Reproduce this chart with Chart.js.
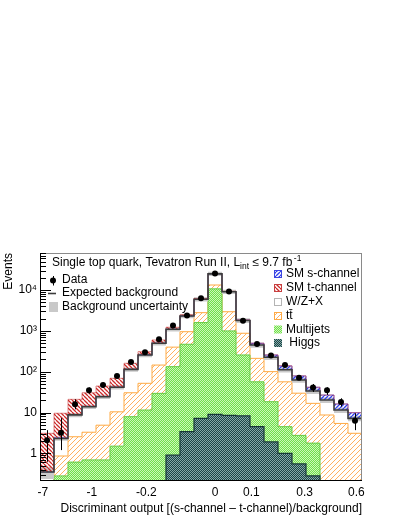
<!DOCTYPE html>
<html><head><meta charset="utf-8">
<script src="https://cdn.jsdelivr.net/npm/chart.js@4.4.1/dist/chart.umd.min.js"></script>
<style>html,body{margin:0;padding:0;background:#fff;}#wrap{width:399px;height:516px;}</style>
</head><body><div id="wrap"><canvas id="c" width="399" height="516" style="width:399px;height:516px"></canvas></div>
<script>
// ---------- data ----------
const nBins = 23;
const xTickPos    = [0.2, 3.7, 7.6, 12.5, 15.1, 18.9, 22.6];
const xTickLabels = ['-7', '-1', '-0.2', '0', '0.1', '0.3', '0.6'];
const yTickValues = [1, 10, 100, 1000, 10000];
const yTickLabels = ['1', '10', '10²', '10³', '10⁴'];

const higgs     = [0, 0, 0, 0, 0, 0, 0, 0, 0, 0.9, 3.4, 7.2, 9.0, 8.5, 8.3, 4.5, 1.9, 1.0, 0.55, 0.28, 0, 0, 0];
const multijets = [0, 0.28, 0.61, 0.69, 0.69, 1.5, 7.9, 11.5, 29.5, 132, 467, 1590, 10700, 990, 249, 52, 16.5, 3.5, 2.2, 1.5, 0, 0, 0];
const ttbar     = [0, 0.58, 1.94, 2.6, 4.2, 8.9, 22.6, 40.5, 116, 267, 485, 1200, 2600, 1950, 618, 156, 82, 52, 27, 15, 8.7, 5.4, 3.1];
const wzx       = [0.35, 1.44, 6.2, 10.6, 19.5, 31.1, 83.5, 205, 354, 695, 1365, 3160, 11700, 6190, 925, 238, 125, 55, 33, 16.8, 11.5, 6.1, 4.1];
const schan     = [0, 0.1, 0.2, 0.3, 0.4, 0.6, 1, 2, 3, 5, 10, 20, 50, 80, 45, 46, 32, 27, 16, 8, 6.6, 4.7, 2.7];
const tchan     = [2.75, 7.2, 12.1, 16.3, 19.8, 26.9, 46, 51, 97, 130, 150, 270, 350, 130, 15, 3, 1, 0.5, 0.3, 0.1, 0, 0, 0];
const bkgUnc    = [0.33, 0.12, 0.12, 0.12, 0.12, 0.12, 0.12, 0.12, 0.12, 0.12, 0.12, 0.12, 0.12, 0.12, 0.13, 0.14, 0.14, 0.14, 0.15, 0.15, 0.15, 0.15, 0.15];
const data      = [2.1, 3.2, 16, 35, 47, 78, 173, 300, 620, 1350, 2400, 6300, 25500, 9200, 1780, 478, 250, 145, 71, 41, 35, 18, 6.3];
const dataLow   = [0.62, 1.2, 12, 29, 40, 69, 160, 283, 595, 1313, 2351, 6221, 25340, 9104, 1738, 456, 234, 133, 63, 32, 27, 14, 3.7];
const dataHigh  = [3.7, 7.3, 21, 41, 54, 87, 186, 317, 645, 1387, 2449, 6379, 25660, 9296, 1822, 500, 266, 157, 79, 50, 41.5, 22.3, 9.6];

// ---------- helpers ----------
const FONT = '"Liberation Sans", Arial, Helvetica, sans-serif';
const FLOOR = 0.01;
function cumulative(...arrs) { return arrs[0].map((_, i) => arrs.reduce((s, a) => s + a[i], 0)); }
function steps(vals) {
  const pts = vals.map((v, i) => ({x: i, y: v > 0 ? v : FLOOR}));
  pts.push({x: vals.length, y: vals[vals.length - 1] > 0 ? vals[vals.length - 1] : FLOOR});
  return pts;
}
function hatch(color, s, dir, lw) {
  const c = document.createElement('canvas'); c.width = s; c.height = s;
  const g = c.getContext('2d');
  g.strokeStyle = color; g.lineWidth = lw; g.beginPath();
  for (let k = -1; k <= 1; k++) {
    if (dir === '/') { g.moveTo(k * s, s); g.lineTo(k * s + s, 0); }
    else { g.moveTo(k * s, 0); g.lineTo(k * s + s, s); }
  }
  g.stroke();
  return g.createPattern(c, 'repeat');
}
function checker(c1, c2) {
  const c = document.createElement('canvas'); c.width = 2; c.height = 2;
  const g = c.getContext('2d');
  g.fillStyle = c1; g.fillRect(0, 0, 2, 2);
  g.fillStyle = c2; g.fillRect(0, 0, 1, 1); g.fillRect(1, 1, 1, 1);
  return g.createPattern(c, 'repeat');
}
const patTT = hatch('#ffb060', 5, '/', 1);
const patT  = hatch('#cc2a2a', 4, '\\', 1.3);
const patS  = hatch('#2f3ff0', 4, '/', 1.3);
const patMJ = checker('#6ee04a', '#cdf6b9');
const patH  = checker('#1c4646', '#86a8a8');

const cumH  = higgs.slice();
const cumM  = cumulative(higgs, multijets);
const cumT  = cumulative(higgs, multijets, ttbar);
const cumW  = cumulative(higgs, multijets, ttbar, wzx);
const cumS  = cumulative(higgs, multijets, ttbar, wzx, schan);
const cumTc = cumulative(higgs, multijets, ttbar, wzx, schan, tchan);
const bandHi = cumW.map((v, i) => v * (1 + bkgUnc[i]));
const bandLo = cumW.map((v, i) => v * (1 - bkgUnc[i]));

const lineBase = {type: 'line', stepped: true, pointRadius: 0, tension: 0, spanGaps: true};

const datasets = [
  {type: 'line', label: 'Data', data: data.map((v, i) => ({x: i + 0.5, y: v})), showLine: false,
   pointRadius: 3, pointBackgroundColor: '#000', pointBorderColor: '#000', pointBorderWidth: 0, order: 0},
  {...lineBase, label: 'Expected background', data: steps(cumW), borderColor: '#3c3c3c', borderWidth: 1.6, fill: false, order: 1},
  {...lineBase, label: 'SM t-channel', data: steps(cumTc), borderColor: 'rgba(200,50,50,0.7)', borderWidth: 0.8, fill: {target: 3}, backgroundColor: patT, order: 2},
  {...lineBase, label: 'SM s-channel', data: steps(cumS), borderColor: 'rgba(50,60,230,0.8)', borderWidth: 0.8, fill: {target: 1}, backgroundColor: patS, order: 3},
  {...lineBase, label: 'Background uncertainty', data: steps(bandHi), borderWidth: 0, fill: {target: 5}, backgroundColor: '#c9c9c9', order: 4},
  {...lineBase, label: 'band low', data: steps(bandLo), borderWidth: 0, fill: false, order: 5},
  {...lineBase, label: 'Higgs', data: steps(cumH), borderColor: '#173838', borderWidth: 1.2, fill: 'start', backgroundColor: patH, order: 6},
  {...lineBase, label: 'Multijets', data: steps(cumM), borderColor: '#66cc44', borderWidth: 1, fill: {target: 6}, backgroundColor: patMJ, order: 7},
  {...lineBase, label: 'ttbar', data: steps(cumT), borderColor: '#ffaa44', borderWidth: 1, fill: {target: 7}, backgroundColor: patTT, order: 8}
];

// ---------- custom drawing: frame, ticks, error bars, legend ----------
function txt(ctx, s, x, y, size) { ctx.font = size + 'px ' + FONT; ctx.fillText(s, x, y); return x + ctx.measureText(s).width; }
const decor = {
  id: 'decor',
  afterDatasetsDraw(chart) {
    const ctx = chart.ctx, xs = chart.scales.x, ys = chart.scales.y, a = chart.chartArea;
    ctx.save();
    ctx.beginPath(); ctx.rect(a.left, a.top, a.right - a.left, a.bottom - a.top); ctx.clip();
    ctx.strokeStyle = '#000'; ctx.lineWidth = 1; ctx.beginPath();
    for (let i = 0; i < data.length; i++) {
      const px = Math.round(xs.getPixelForValue(i + 0.5)) + 0.5;
      ctx.moveTo(px, ys.getPixelForValue(dataLow[i]));
      ctx.lineTo(px, ys.getPixelForValue(dataHigh[i]));
    }
    ctx.stroke();
    ctx.restore();
  },
  afterDraw(chart) {
    const ctx = chart.ctx, ys = chart.scales.y, a = chart.chartArea;
    ctx.save();
    // frame
    ctx.lineWidth = 1;
    ctx.strokeStyle = '#8a8a8a'; ctx.beginPath();
    ctx.moveTo(a.left, a.top + 0.5); ctx.lineTo(a.right, a.top + 0.5);
    ctx.moveTo(a.right - 0.5, a.top); ctx.lineTo(a.right - 0.5, a.bottom);
    ctx.stroke();
    ctx.strokeStyle = '#000'; ctx.beginPath();
    ctx.moveTo(a.left + 0.5, a.top); ctx.lineTo(a.left + 0.5, a.bottom);
    ctx.moveTo(a.left, a.bottom - 0.5); ctx.lineTo(a.right, a.bottom - 0.5);
    // y ticks inside the frame
    for (let e = -1; e <= 5; e++) for (let m = 1; m <= 9; m++) {
      const v = m * Math.pow(10, e);
      if (v < ys.min || v > ys.max) continue;
      const py = Math.round(ys.getPixelForValue(v)) + 0.5;
      ctx.moveTo(a.left, py); ctx.lineTo(a.left + (m === 1 ? 11 : 6), py);
    }
    ctx.stroke();

    // header text
    ctx.fillStyle = '#000'; ctx.textBaseline = 'middle'; ctx.textAlign = 'left';
    let x = txt(ctx, 'Single top quark, Tevatron Run II, L', 52, 263, 12);
    x = txt(ctx, 'int', x, 266.5, 8.5);
    x = txt(ctx, ' ≤ 9.7 fb', x, 263, 12);
    txt(ctx, '-1', x + 1.5, 258.5, 8.5);

    // left legend
    ctx.beginPath(); ctx.arc(53, 280.5, 3, 0, Math.PI * 2); ctx.fill();
    ctx.beginPath(); ctx.moveTo(53.5, 276); ctx.lineTo(53.5, 285.5); ctx.stroke();
    txt(ctx, 'Data', 62, 280, 12);
    ctx.strokeStyle = '#3c3c3c'; ctx.lineWidth = 1.6;
    ctx.beginPath(); ctx.moveTo(48, 293.5); ctx.lineTo(56, 293.5); ctx.stroke();
    txt(ctx, 'Expected background', 62, 293, 12);
    ctx.fillStyle = '#c9c9c9'; ctx.fillRect(49, 302, 9, 10);
    ctx.fillStyle = '#000';
    txt(ctx, 'Background uncertainty', 62, 306.5, 12);

    // right legend
    const entries = [
      {label: 'SM s-channel', fill: patS, border: '#3c46e0', y: 274},
      {label: 'SM t-channel', fill: patT, border: '#c84040', y: 288},
      {label: 'W/Z+X', fill: '#ffffff', border: '#b4b4b4', y: 302},
      {label: 'tt\u0304', fill: patTT, border: '#ffaa44', y: 316},
      {label: 'Multijets', fill: patMJ, border: null, y: 329.5},
      {label: ' Higgs', fill: patH, border: null, y: 343}
    ];
    ctx.lineWidth = 1;
    entries.forEach(en => {
      ctx.fillStyle = en.fill; ctx.fillRect(274, en.y - 4, 8, 8);
      if (en.border) { ctx.strokeStyle = en.border; ctx.strokeRect(274.5, en.y - 3.5, 7, 7); }
      ctx.fillStyle = '#000';
      txt(ctx, en.label, 286, en.y, 12);
    });
    ctx.restore();
  }
};

Chart.defaults.font.family = FONT;
Chart.defaults.font.size = 12;
Chart.defaults.color = '#000';

new Chart(document.getElementById('c'), {
  type: 'line',
  data: {datasets},
  options: {
    responsive: false, animation: false, events: [],
    layout: {padding: {top: 253, right: 37, left: 0, bottom: 0}},
    plugins: {legend: {display: false}, tooltip: {enabled: false}},
    scales: {
      x: {
        type: 'linear', min: 0, max: nBins,
        grid: {display: false, drawTicks: false}, border: {display: false},
        afterBuildTicks: s => { s.ticks = xTickPos.map(v => ({value: v})); },
        afterFit: s => { s.height = 35; },
        ticks: {autoSkip: false, maxRotation: 0, padding: 4, font: {size: 12},
          callback: (v, i) => xTickLabels[i]},
        title: {display: true, text: 'Discriminant output [(s-channel – t-channel)/background]',
          align: 'end', font: {size: 12}, padding: {top: 3, bottom: 0}}
      },
      y: {
        type: 'logarithmic', min: 0.21, max: 81000,
        grid: {display: false, drawTicks: false}, border: {display: false},
        afterBuildTicks: s => { s.ticks = yTickValues.map(v => ({value: v})); },
        afterFit: s => { s.width = 40; },
        ticks: {padding: 3, font: {size: 12}, callback: (v, i) => yTickLabels[i]},
        title: {display: true, text: 'Events', align: 'end', font: {size: 12}, padding: {top: 1, bottom: 0}}
      }
    }
  },
  plugins: [decor]
});
</script>
</body></html>
